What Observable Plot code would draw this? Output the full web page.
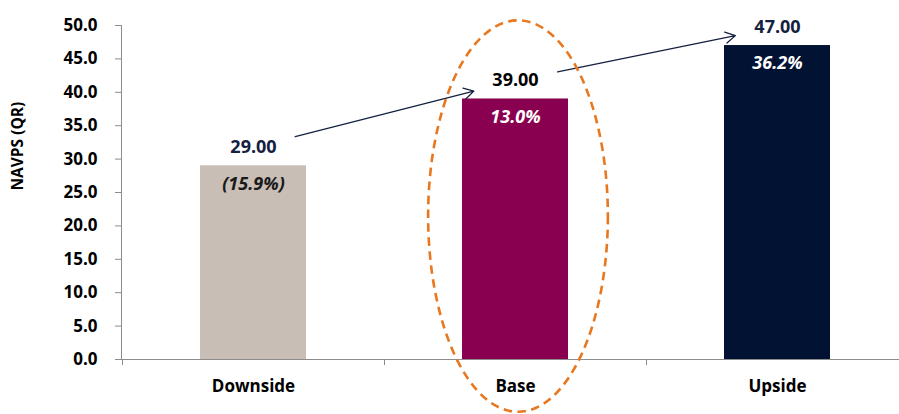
<!DOCTYPE html>
<html>
<head>
<meta charset="utf-8">
<script src="https://cdn.jsdelivr.net/npm/d3@7"></script>
<script src="https://cdn.jsdelivr.net/npm/@observablehq/plot@0.6"></script>
<style>
  html, body { margin: 0; padding: 0; background: #ffffff; }
  #chart { width: 899px; height: 414px; }
</style>
</head>
<body>
<div id="chart"></div>
<script>
// ---- data ----
const categories = ["Downside", "Base", "Upside"];
const navps = [29.00, 39.00, 47.00];
const returnLabels = ["(15.9%)", "13.0%", "36.2%"];
const barColors = ["#c8beb5", "#8a0050", "#021233"];
const valueLabelColors = ["#14203f", "#000000", "#14203f"];
const returnLabelColors = ["#1a1a1a", "#ffffff", "#ffffff"];
const yTicks = [0, 5, 10, 15, 20, 25, 30, 35, 40, 45, 50];
const yTitle = "NAVPS (QR)";
const highlightCategory = "Base";

const rows = categories.map((c, i) => ({
  cat: c, v: navps[i], ret: returnLabels[i],
  fill: barColors[i], vColor: valueLabelColors[i], rColor: returnLabelColors[i]
}));
const steps = rows.slice(1).map((r, i) => ({ from: rows[i], to: r }));

const font = "'Open Sans', 'DejaVu Sans', sans-serif";
const axisGray = "#8c8c8c";

// custom axis lines & category boundary ticks
function axisLines(index, scales, values, dimensions) {
  const {x, y} = scales;
  const {width, marginLeft} = dimensions;
  const y0 = y(0);
  const step = x.step();
  const g = d3.create("svg:g").attr("stroke", axisGray).attr("stroke-width", 1);
  g.append("line").attr("x1", marginLeft + 0.5).attr("x2", marginLeft + 0.5)
    .attr("y1", y(50)).attr("y2", y0);
  g.append("line").attr("x1", marginLeft).attr("x2", width)
    .attr("y1", y0 + 0.5).attr("y2", y0 + 0.5);
  categories.forEach(c => {
    const bx = x(c) + x.bandwidth() / 2 - step / 2;
    g.append("line").attr("x1", bx + 0.5).attr("x2", bx + 0.5)
      .attr("y1", y0).attr("y2", y0 + 6);
  });
  return g.node();
}

// dashed highlight ellipse around the chosen category
function highlight(index, scales) {
  const {x, y} = scales;
  const cx = x(highlightCategory) + x.bandwidth() / 2 + 3;
  const cy = y(21.4);
  const ry = Math.abs(y(21.4 + 29.3) - cy);
  const rx = x.step() * 0.343;
  return d3.create("svg:ellipse")
    .attr("cx", cx).attr("cy", cy).attr("rx", rx).attr("ry", ry)
    .attr("fill", "none").attr("stroke", "#e8771e")
    .attr("stroke-width", 2.6).attr("stroke-dasharray", "8.5,5.5").node();
}

const chart = Plot.plot({
  width: 899,
  height: 414,
  marginLeft: 121,
  marginRight: 0,
  marginTop: 25,
  marginBottom: 55,
  style: { fontFamily: font, background: "#ffffff", overflow: "visible" },
  x: { domain: categories, range: [121, 908.5], paddingInner: 0.596, paddingOuter: 0.298 },
  y: { domain: [0, 50] },
  color: { type: "identity" },
  marks: [
    Plot.barY(rows, { x: "cat", y: "v", fill: "fill" }),
    axisLines,
    Plot.axisY({
      ticks: yTicks, tickFormat: d => d.toFixed(1), tickSize: 6, tickPadding: 18,
      stroke: axisGray, fill: "#000", fontSize: 17, fontWeight: "bold", label: null
    }),
    Plot.axisX({
      tickSize: 0, tickPadding: 20, fill: "#000", fontSize: 17, fontWeight: "bold", label: null
    }),
    Plot.text([yTitle], {
      frameAnchor: "left", rotate: -90, dx: -103, dy: -2, text: d => d,
      fontSize: 15.5, fontWeight: "bold", fill: "#000"
    }),
    Plot.text(rows, {
      x: "cat", y: "v", text: d => d.v.toFixed(2), dy: -18.5,
      fontSize: 18, fontWeight: "bold", fill: "vColor"
    }),
    Plot.text(rows, {
      x: "cat", y: "v", text: "ret", dy: 18,
      fontSize: 18, fontWeight: "bold", fontStyle: "italic", fill: "rColor"
    }),
    Plot.arrow(steps, {
      x1: d => d.from.cat, y1: d => d.from.v,
      x2: d => d.to.cat, y2: d => d.to.v,
      dy: -18.5, insetStart: 43, insetEnd: 43,
      stroke: "#14203f", strokeWidth: 1.3, headLength: 13
    }),
    highlight
  ]
});
document.getElementById("chart").appendChild(chart);
</script>
</body>
</html>
